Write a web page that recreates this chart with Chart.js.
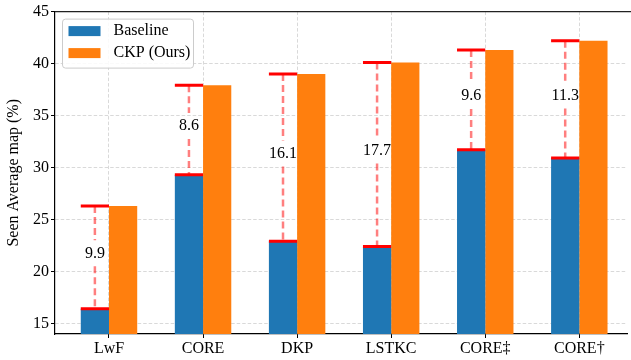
<!DOCTYPE html>
<html>
<head>
<meta charset="utf-8">
<script src="https://cdn.jsdelivr.net/npm/chart.js@4.4.1/dist/chart.umd.min.js"></script>
<style>
  html, body { margin: 0; padding: 0; background: #fff; }
  #wrap { width: 631px; height: 360px; }
</style>
</head>
<body>
<div id="wrap"><canvas id="graph-canvas" width="631" height="360"></canvas></div>
<script>
const methods = ["LwF", "CORE", "DKP", "LSTKC", "CORE\u2021", "CORE\u2020"];
const baseline = [16.4, 29.3, 22.9, 22.4, 31.7, 30.9];
const ckp = [26.3, 37.9, 39.0, 40.1, 41.3, 42.2];
const yTicks = [15, 20, 25, 30, 35, 40, 45];
const seriesNames = ["Baseline", "CKP (Ours)"];

const SERIF = "'Liberation Serif', 'DejaVu Serif', serif";
const GRID = '#d9d9d9';
Chart.defaults.color = '#000';
Chart.defaults.font.family = SERIF;
Chart.defaults.font.size = 16;

// only draw vertical grid lines at the method positions
function xGridColor(c) {
    const v = c.tick ? c.tick.value : null;
    return (v !== null && Number.isInteger(v) && v >= 0 && v < methods.length) ? GRID : 'rgba(0,0,0,0)';
}

// gain markers: red caps at both values, pink dashed link, gain label
const gainPlugin = {
    id: 'gains',
    afterDatasetsDraw(chart) {
        const ctx = chart.ctx;
        const y = chart.scales.y;
        const bars = chart.getDatasetMeta(0).data;
        ctx.save();
        for (var i = 0; i < methods.length; i++)
        {
            const bar = bars[i];
            const left = bar.x - bar.width / 2, right = bar.x + bar.width / 2;
            const yb = y.getPixelForValue(baseline[i]);
            const yc = y.getPixelForValue(ckp[i]);
            const mid = (yb + yc) / 2 - 4;
            const txt = (ckp[i] - baseline[i]).toFixed(1);

            ctx.strokeStyle = 'rgba(255,0,0,0.5)';
            ctx.lineWidth = 2.5;
            ctx.setLineDash([7, 4]);
            ctx.beginPath();
            ctx.moveTo(bar.x, yc); ctx.lineTo(bar.x, mid - 13);
            ctx.moveTo(bar.x, mid + 13); ctx.lineTo(bar.x, yb);
            ctx.stroke();
            ctx.setLineDash([]);

            ctx.strokeStyle = '#ff0000';
            ctx.lineWidth = 3;
            ctx.beginPath();
            ctx.moveTo(left, yb); ctx.lineTo(right, yb);
            ctx.moveTo(left, yc); ctx.lineTo(right, yc);
            ctx.stroke();

            ctx.fillStyle = '#000';
            ctx.font = '16px ' + SERIF;
            ctx.textAlign = 'center';
            ctx.textBaseline = 'middle';
            ctx.fillText(txt, bar.x, mid);
        }
        ctx.restore();
    },
    afterDraw(chart) {
        const ctx = chart.ctx;
        const a = chart.chartArea;
        ctx.save();
        // top spine, running off the right edge
        ctx.strokeStyle = '#222';
        ctx.lineWidth = 1.2;
        ctx.beginPath();
        ctx.moveTo(a.left, a.top); ctx.lineTo(chart.width, a.top);
        ctx.stroke();

        // legend box in the upper left corner
        const lx = a.left + 7.5, ly = a.top + 7.5, lw = 131, lh = 49;
        ctx.fillStyle = 'rgba(255,255,255,0.85)';
        ctx.strokeStyle = '#cccccc';
        ctx.lineWidth = 1;
        ctx.beginPath();
        ctx.roundRect(lx, ly, lw, lh, 3);
        ctx.fill();
        ctx.stroke();
        chart.data.datasets.forEach(function (ds, k) {
            const rowY = ly + 12 + k * 22;
            ctx.fillStyle = ds.backgroundColor;
            ctx.fillRect(lx + 6, rowY - 5, 32, 10);
            ctx.fillStyle = '#000';
            ctx.font = '16px ' + SERIF;
            ctx.textAlign = 'left';
            ctx.textBaseline = 'middle';
            ctx.fillText(ds.label, lx + 51, rowY);
        });
        ctx.restore();
    }
};

const ctx = document.getElementById('graph-canvas');

var chart = new Chart(ctx,
    {
    type: 'bar',
    data:
    {
        datasets:
        [{
            label: seriesNames[0],
            data: baseline.map(function (v, i) { return {x: i, y: v}; }),
            backgroundColor: '#1f77b4'
        },
        {
            label: seriesNames[1],
            data: ckp.map(function (v, i) { return {x: i, y: v}; }),
            backgroundColor: '#ff7f0e'
        }]
    },
    options:
    {
        responsive: false,
        animation: false,
        categoryPercentage: 0.6,
        barPercentage: 1.0,
        layout: { padding: { top: 11, left: 0, right: 4, bottom: 0 } },
        plugins:
        {
            legend: { display: false },
            tooltip: { enabled: false }
        },
        scales:
        {
            x:
            {
                type: 'linear',
                offset: false,
                min: -0.574,
                max: 5.507,
                afterBuildTicks: function (scale) {
                    scale.ticks = methods.map(function (m, i) { return {value: i}; });
                },
                afterFit: function (scale) { scale.height = 26; },
                ticks:
                {
                    padding: 1,
                    maxRotation: 0,
                    autoSkip: false,
                    callback: function (v) { return methods[v]; }
                },
                grid:
                {
                    offset: false,
                    color: xGridColor,
                    tickColor: '#000',
                    tickLength: 4,
                    lineWidth: 1
                },
                border: { color: '#000', width: 1.2, dash: [3.5, 2] }
            },
            y:
            {
                min: 13.97,
                max: 45,
                afterBuildTicks: function (scale) {
                    scale.ticks = yTicks.map(function (t) { return {value: t}; });
                },
                afterFit: function (scale) { scale.width = 55; },
                ticks: { padding: 2 },
                grid:
                {
                    color: GRID,
                    tickColor: '#000',
                    tickLength: 4,
                    lineWidth: 1
                },
                border: { color: '#000', width: 1.2, dash: [3.5, 2] },
                title:
                {
                    display: true,
                    text: 'Seen Average map (%)',
                    font: { size: 16, family: SERIF },
                    padding: { top: 4, bottom: 0 }
                }
            }
        }
    },
    plugins: [gainPlugin]
});
</script>
</body>
</html>
